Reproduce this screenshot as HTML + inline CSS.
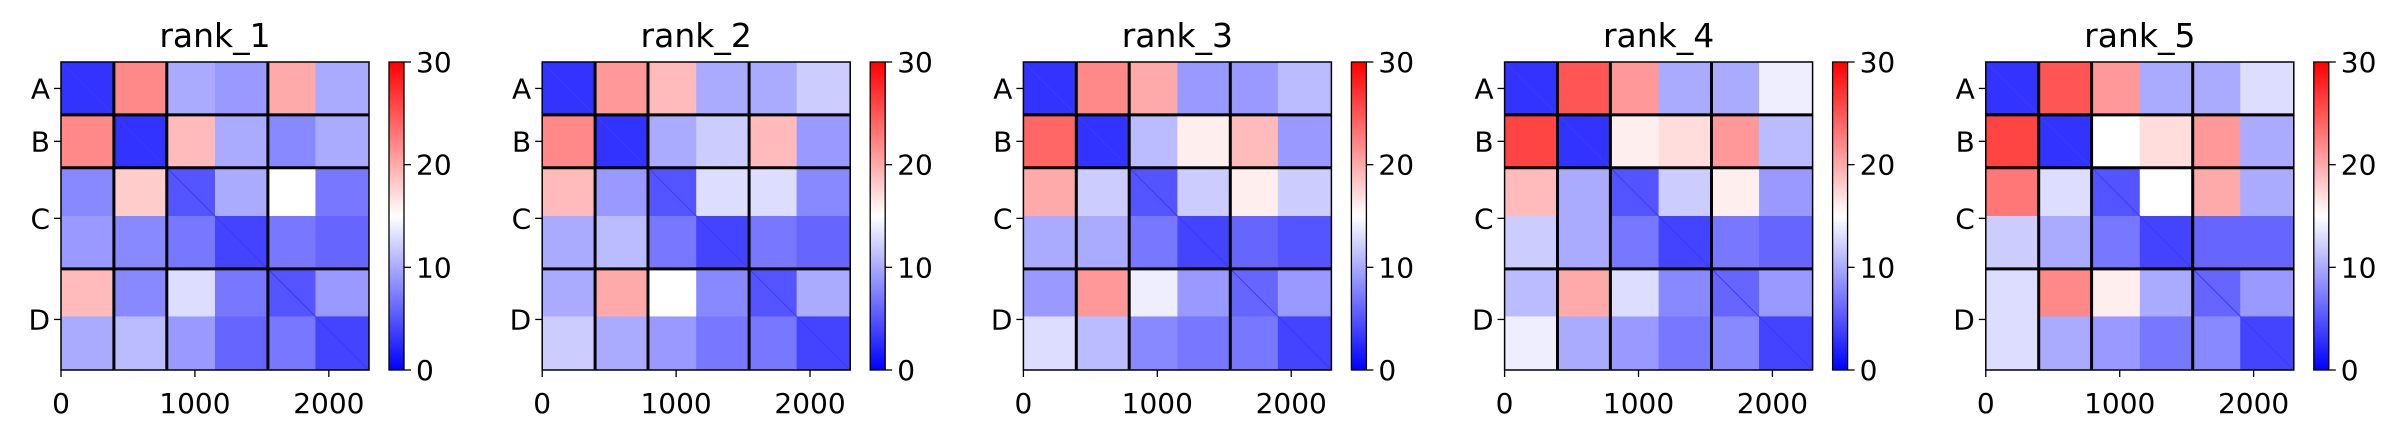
<!DOCTYPE html>
<html><head><meta charset="utf-8"><style>
html,body{margin:0;padding:0;background:#fff;width:2403px;height:438px;overflow:hidden}
svg text{font-family:"DejaVu Sans","Liberation Sans",sans-serif;fill:#000}
</style></head><body>
<svg id="fig" width="2403" height="438" xmlns="http://www.w3.org/2000/svg"></svg>
<script>
const titles = ["rank_1","rank_2","rank_3","rank_4","rank_5"];
const chainLabels = ["A","B","C","D"];
const chainEnds = [395, 790, 1545, 2300];
const segEdges = [0, 395, 790, 1150, 1545, 1900, 2300];
const xTicks = [0, 1000, 2000];
const cbTicks = [0, 10, 20, 30];
const pae1 = [[3,22,10,9,20,10],[22,3,19,10,8,10],[8,18,5,10,15,7],[9,8,7,4,7,6],[19,8,13,7,5,9],[10,11,9,6,7,4]];
const pae2 = [[3,21,19,10,10,12],[22,3,10,12,19,9],[19,9,5,13,13,8],[10,11,7,4,7,6],[10,20,15,8,5,10],[12,10,9,7,7,4]];
const pae3 = [[3,22,20,9,9,11],[24,3,11,16,19,9],[20,12,5,12,16,12],[10,10,7,4,6,5],[9,21,14,9,6,9],[13,11,8,7,7,4]];
const pae4 = [[3,25,21,10,10,14],[26,3,16,17,21,11],[19,10,5,12,16,9],[12,10,7,4,7,6],[11,20,13,8,6,9],[14,10,9,7,8,4]];
const pae5 = [[3,25,21,10,10,13],[26,3,15,17,21,10],[23,13,5,15,20,10],[12,10,7,4,6,6],[13,22,16,10,6,9],[13,10,9,7,8,4]];
const panels = [pae1, pae2, pae3, pae4, pae5];

const NS = "http://www.w3.org/2000/svg";
const fig = document.getElementById("fig");
const AX = 308, TOP = 62, DMAX = 2300, VMAX = 30;
function bwr(v){
  const t = Math.max(0, Math.min(1, v / VMAX));
  let r, g, b;
  if (t < 0.5){ const s = t / 0.5; r = g = Math.round(255 * s); b = 255; }
  else { const s = (1 - t) / 0.5; r = 255; g = b = Math.round(255 * s); }
  return `rgb(${r},${g},${b})`;
}
function mk(tag, attrs, parent){
  const e = document.createElementNS(NS, tag);
  for (const k in attrs) e.setAttribute(k, attrs[k]);
  (parent || fig).appendChild(e);
  return e;
}
panels.forEach((mat, p) => {
  const x0 = 61 + 481.2 * p;
  const sx = d => x0 + d / DMAX * AX;
  const sy = d => TOP + d / DMAX * AX;
  const cy = v => TOP + AX - v / VMAX * AX;
  const g = mk("g", {});
  
  
  const t = mk("text", {x: x0 + AX / 2, y: 47, "font-size": 33, "text-anchor": "middle"}, g);
  t.textContent = titles[p];
  
  
  for (let i = 0; i < 6; i++) for (let j = 0; j < 6; j++){
    const c = mk("rect", {x: sx(segEdges[j]), y: sy(segEdges[i]),
      width: sx(segEdges[j+1]) - sx(segEdges[j]) + 0.5, height: sy(segEdges[i+1]) - sy(segEdges[i]) + 0.5,
      fill: bwr(mat[i][j])}, g);
    
    
  }
  const dg = mk("line", {x1: sx(0), y1: sy(0), x2: sx(DMAX), y2: sy(DMAX), stroke: "#3a3aff", "stroke-width": 1}, g);
  
  
  chainEnds.slice(0, 3).forEach(b => {
    const l1 = mk("line", {x1: sx(b), y1: TOP, x2: sx(b), y2: TOP + AX, stroke: "#000", "stroke-width": 3}, g);
    
    
    const l2 = mk("line", {x1: x0, y1: sy(b), x2: x0 + AX, y2: sy(b), stroke: "#000", "stroke-width": 3}, g);
    
    
  });
  const fr = mk("rect", {x: x0, y: TOP, width: AX, height: AX, fill: "none", stroke: "#000", "stroke-width": 1.5}, g);
  
  
  xTicks.forEach(v => {
    mk("line", {x1: sx(v), y1: TOP + AX, x2: sx(v), y2: TOP + AX + 7, stroke: "#000", "stroke-width": 1.3}, g);
    const tl = mk("text", {x: sx(v), y: TOP + AX + 43, "font-size": 28, "text-anchor": "middle"}, g);
    tl.textContent = v;
    
    
  });
  let prev = 0;
  chainEnds.forEach((e, k) => {
    const m = (prev + e) / 2; prev = e;
    mk("line", {x1: x0 - 7, y1: sy(m), x2: x0, y2: sy(m), stroke: "#000", "stroke-width": 1.3}, g);
    const yl = mk("text", {x: x0 - 11, y: sy(m) + 10, "font-size": 28, "text-anchor": "end"}, g);
    yl.textContent = chainLabels[k];
    
    
  });
  const cx = x0 + 328, gid = "cb" + p;
  const defs = mk("defs", {}, g);
  const lg = mk("linearGradient", {id: gid, x1: 0, y1: 1, x2: 0, y2: 0}, defs);
  mk("stop", {offset: "0", "stop-color": "rgb(0,0,255)"}, lg);
  mk("stop", {offset: "0.5", "stop-color": "rgb(255,255,255)"}, lg);
  mk("stop", {offset: "1", "stop-color": "rgb(255,0,0)"}, lg);
  const cb = mk("rect", {x: cx, y: TOP, width: 15, height: AX, fill: `url(#${gid})`, stroke: "#000", "stroke-width": 1.3}, g);
  
  
  cbTicks.forEach(v => {
    mk("line", {x1: cx + 15, y1: cy(v), x2: cx + 22, y2: cy(v), stroke: "#000", "stroke-width": 1.3}, g);
    const cl = mk("text", {x: cx + 27, y: cy(v) + 10, "font-size": 28}, g);
    cl.textContent = v;
    
    
  });
});
</script>
</body></html>
